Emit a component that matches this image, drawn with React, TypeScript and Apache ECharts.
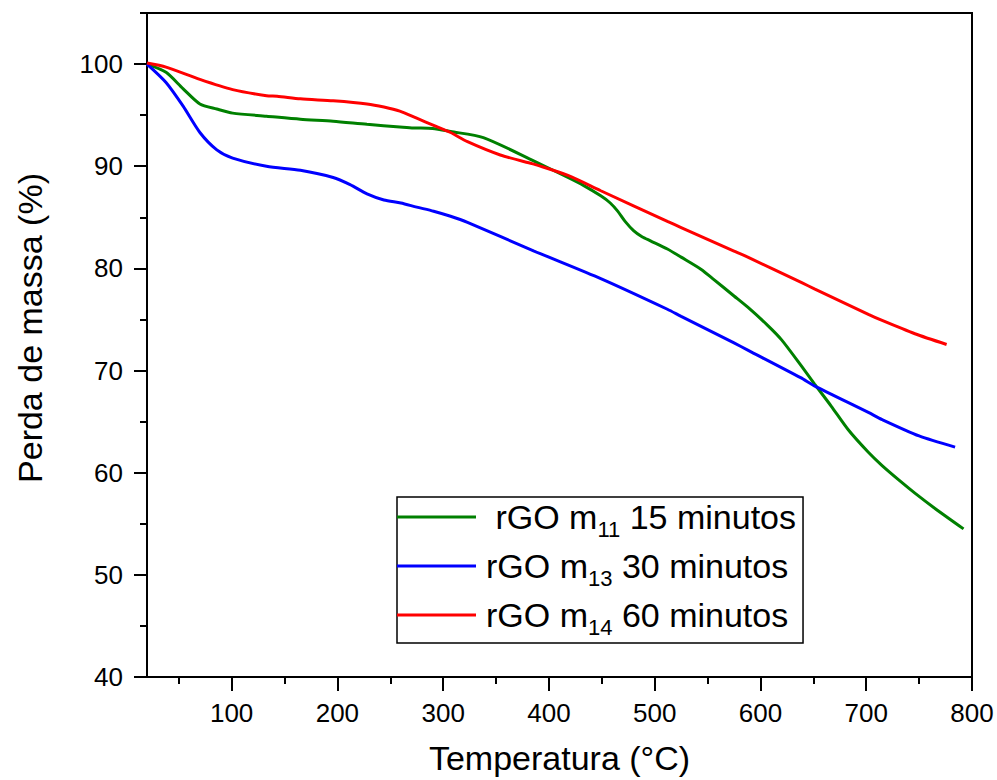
import React, { useEffect, useRef } from "react";
import * as echarts from "echarts";

const FONT = "'Liberation Sans', Arial, sans-serif";

const seriesNames = ["rGO m11 15 minutos", "rGO m13 30 minutos", "rGO m14 60 minutos"];
const seriesColors = ["#008000", "#0000FF", "#FF0000"];
const legendMain = ["rGO m", "rGO m", "rGO m"];
const legendSub = ["11", "13", "14"];
const legendTail = [" 15 minutos", " 30 minutos", " 60 minutos"];
const legendLead = [" ", "", ""];

const tempGreen = [20, 38, 54, 70, 86, 101, 133, 165, 196, 228, 259, 272, 290, 307, 338, 386, 418, 433, 449, 458, 465, 472, 480, 488, 496, 512, 525, 544, 556, 575, 588, 607, 620, 639, 651, 667, 683, 702, 715, 733, 746, 765, 792];
const massGreen = [100, 99.2, 97.6, 96.1, 95.6, 95.2, 94.9, 94.6, 94.4, 94.1, 93.85, 93.75, 93.7, 93.4, 92.8, 90.5, 88.9, 88.1, 87.1, 86.4, 85.6, 84.6, 83.7, 83.1, 82.7, 81.9, 81.1, 79.9, 78.9, 77.3, 76.2, 74.4, 73.0, 70.4, 68.7, 66.5, 64.2, 62.0, 60.7, 59.1, 58.0, 56.5, 54.5];

const tempBlue = [20, 38, 54, 70, 86, 101, 133, 165, 196, 212, 228, 244, 260, 275, 291, 307, 323, 386, 449, 512, 525, 575, 588, 638, 651, 702, 715, 750, 784];
const massBlue = [100, 98.2, 95.9, 93.3, 91.6, 90.8, 90.0, 89.6, 88.9, 88.2, 87.3, 86.7, 86.4, 86.0, 85.6, 85.1, 84.5, 81.7, 79.0, 76.0, 75.3, 72.7, 72.0, 69.3, 68.5, 65.9, 65.2, 63.6, 62.5];

const tempRed = [20, 38, 70, 101, 133, 143, 165, 196, 228, 244, 259, 275, 291, 307, 323, 354, 384, 386, 418, 449, 512, 525, 575, 588, 639, 651, 702, 715, 746, 776];
const massRed = [100.1, 99.7, 98.5, 97.5, 96.9, 96.85, 96.6, 96.4, 96.1, 95.8, 95.4, 94.7, 94.0, 93.3, 92.4, 91.1, 90.25, 90.2, 89.1, 87.6, 84.6, 84.0, 81.7, 81.1, 78.6, 78.0, 75.5, 74.9, 73.6, 72.55];

const xMajorTicks = [100, 200, 300, 400, 500, 600, 700, 800];
const xMinorTicks = [50, 150, 250, 350, 450, 550, 650, 750];
const yMajorTicks = [40, 50, 60, 70, 80, 90, 100];
const yMinorTicks = [45, 55, 65, 75, 85, 95, 105];

const xTitle = "Temperatura (°C)";
const yTitle = "Perda de massa (%)";

const pairs = (xs: number[], ys: number[]) => xs.map((x, i) => [x, ys[i]]);

export default function App() {
  const ref = useRef<HTMLDivElement>(null);
  useEffect(() => {
    if (!ref.current) return;
    const chart = echarts.init(ref.current, null, { renderer: "svg" });
    const allData = [pairs(tempGreen, massGreen), pairs(tempBlue, massBlue), pairs(tempRed, massRed)];
    const axisLine = { show: true, onZero: false, lineStyle: { color: "#000", width: 2 } };
    chart.setOption({
      animation: false,
      backgroundColor: "#fff",
      grid: { left: 147, right: 25, top: 13, bottom: 102, show: true, borderColor: "#000", borderWidth: 2, containLabel: false },
      xAxis: [
        {
          type: "value", min: 20, max: 800, position: "bottom",
          axisLine,
          axisTick: { show: true, inside: false, length: 14, lineStyle: { color: "#000", width: 2 }, customValues: xMajorTicks },
          axisLabel: { show: true, margin: 23, fontSize: 26, color: "#000", fontFamily: FONT, customValues: xMajorTicks },
          splitLine: { show: false },
          name: xTitle, nameLocation: "middle", nameGap: 64,
          nameTextStyle: { fontSize: 34, color: "#000", fontFamily: FONT },
        },
        {
          type: "value", min: 20, max: 800, position: "bottom",
          axisLine: { show: false },
          axisTick: { show: true, inside: false, length: 7, lineStyle: { color: "#000", width: 2 }, customValues: xMinorTicks },
          axisLabel: { show: false },
          splitLine: { show: false },
        },
      ],
      yAxis: [
        {
          type: "value", min: 40, max: 105, position: "left",
          axisLine,
          axisTick: { show: true, inside: false, length: 13, lineStyle: { color: "#000", width: 2 }, customValues: yMajorTicks },
          axisLabel: { show: true, margin: 24, fontSize: 26, color: "#000", fontFamily: FONT, customValues: yMajorTicks },
          splitLine: { show: false },
          name: yTitle, nameLocation: "middle", nameGap: 100,
          nameTextStyle: { fontSize: 34, color: "#000", fontFamily: FONT, padding: [0, 0, 0, 34] },
        },
        {
          type: "value", min: 40, max: 105, position: "left",
          axisLine: { show: false },
          axisTick: { show: true, inside: false, length: 7, lineStyle: { color: "#000", width: 2 }, customValues: yMinorTicks },
          axisLabel: { show: false },
          splitLine: { show: false },
        },
      ],
      legend: {
        orient: "vertical",
        left: 397, top: 497,
        padding: [3, 7, 5, 0],
        icon: "rect",
        itemWidth: 79, itemHeight: 3, itemGap: 9,
        borderColor: "#000", borderWidth: 1.5, backgroundColor: "#fff",
        data: seriesNames,
        formatter: (name: string) => {
          const i = seriesNames.indexOf(name);
          return `{m|${legendLead[i]}${legendMain[i]}}{s|${legendSub[i]}}{m|${legendTail[i]}}`;
        },
        textStyle: {
          color: "#000", fontFamily: FONT, fontSize: 34, padding: [0, 0, 0, 5],
          rich: {
            m: { fontSize: 34, lineHeight: 34, fontFamily: FONT, color: "#000" },
            s: { fontSize: 22, lineHeight: 34, height: 10, verticalAlign: "bottom", fontFamily: FONT, color: "#000" },
          },
        },
      },
      series: seriesNames.map((n, i) => ({
        name: n,
        type: "line",
        xAxisIndex: 0, yAxisIndex: 0,
        data: allData[i],
        symbol: "none", showSymbol: false,
        smooth: 0.25,
        color: seriesColors[i],
        lineStyle: { color: seriesColors[i], width: 3 },
      })),
    });
    return () => chart.dispose();
  }, []);
  return <div ref={ref} style={{ position: "fixed", left: 0, top: 0, width: 997, height: 780 }} />;
}
